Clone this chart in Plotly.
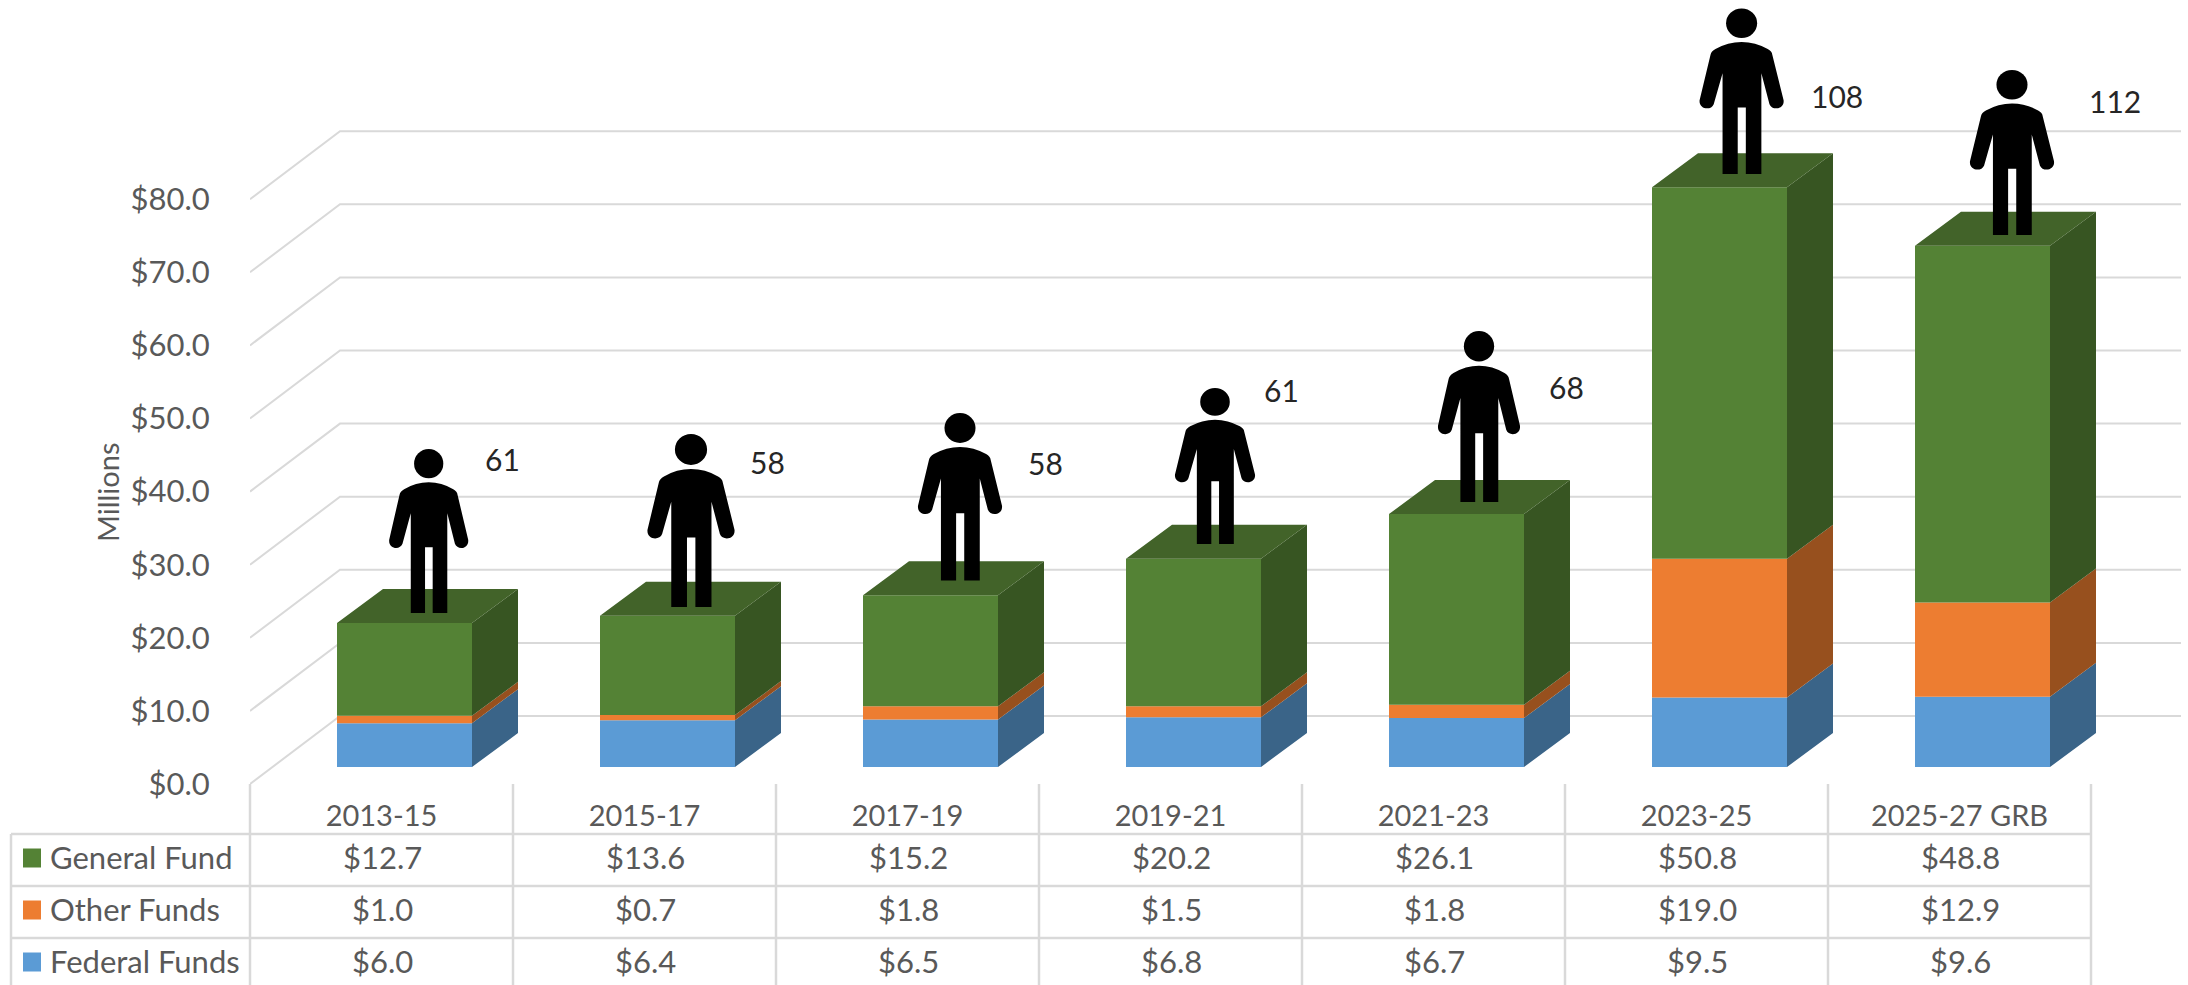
import plotly.graph_objects as go

categories = ["2013-15", "2015-17", "2017-19", "2019-21", "2021-23", "2023-25", "2025-27 GRB"]
general_fund = [12.7, 13.6, 15.2, 20.2, 26.1, 50.8, 48.8]
other_funds = [1.0, 0.7, 1.8, 1.5, 1.8, 19.0, 12.9]
federal_funds = [6.0, 6.4, 6.5, 6.8, 6.7, 9.5, 9.6]
headcount = [61, 58, 58, 61, 68, 108, 112]
y_ticks = [0, 10, 20, 30, 40, 50, 60, 70, 80]

W, H = 2188, 985
L, B0 = 250, 784          # px of plot left edge and plot bottom
SLOT = 263.0              # px per category
UNIT = 7.31               # px per $1M
FONT = "Lato"
TXT = "#595959"
GRID = "#D9D9D9"

# pixel <-> axis helpers
def xpx(px): return (px - (L + SLOT / 2)) / SLOT
def ypx(py): return (B0 - py) / UNIT
def xp(px): return (px - L) / (W - L)
def yp(py): return (B0 - py) / B0

DX_FLOOR, DY_FLOOR = 90 / SLOT, 68 / UNIT
DX_BAR, DY_BAR = 46 / SLOT, 34 / UNIT
FRONT_DX, FRONT_DY = 23 / SLOT, 17 / UNIT
BAR_W = 135 / SLOT

series = [
    ("Federal Funds", federal_funds, "#5B9BD5", "#3A6488"),
    ("Other Funds", other_funds, "#ED7D31", "#97501E"),
    ("General Fund", general_fund, "#548235", "#375522"),
]
TOP_COLOR = "#426329"

fig = go.Figure()
shapes = []

# 3-D wall grid
left = -0.5
right = left + len(categories)
for t in y_ticks:
    shapes.append(dict(
        type="path", layer="below", xref="x", yref="y",
        path=f"M {left} {t} L {left + DX_FLOOR} {t + DY_FLOOR} L {right + DX_FLOOR} {t + DY_FLOOR}",
        line=dict(color=GRID, width=2),
    ))

# Bars and their side / top faces
bases = [FRONT_DY] * len(categories)
for name, vals, front, side in series:
    fig.add_trace(go.Bar(
        x=[i + FRONT_DX for i in range(len(categories))], y=vals, base=list(bases),
        width=BAR_W, marker=dict(color=front, line=dict(width=0)), name=name,
        hoverinfo="name+y", showlegend=False,
    ))
    sx, sy = [], []
    for i, v in enumerate(vals):
        xr = i + FRONT_DX + BAR_W / 2
        b = bases[i]
        sx += [xr, xr + DX_BAR, xr + DX_BAR, xr, xr, None]
        sy += [b, b + DY_BAR, b + v + DY_BAR, b + v, b, None]
    fig.add_trace(go.Scatter(x=sx, y=sy, mode="lines", fill="toself", fillcolor=side,
                             line=dict(width=0, color=side), hoverinfo="skip", showlegend=False))
    bases = [b + v for b, v in zip(bases, vals)]

tx, ty = [], []
for i, b in enumerate(bases):
    xl = i + FRONT_DX - BAR_W / 2
    xr = i + FRONT_DX + BAR_W / 2
    tx += [xl, xr, xr + DX_BAR, xl + DX_BAR, xl, None]
    ty += [b, b, b + DY_BAR, b + DY_BAR, b, None]
fig.add_trace(go.Scatter(x=tx, y=ty, mode="lines", fill="toself", fillcolor=TOP_COLOR,
                         line=dict(width=0, color=TOP_COLOR), hoverinfo="skip", showlegend=False))

# Person icons: (centre x, top y, feet y, width) in px
person_place = [
    (428.7, 449, 613, 79), (691, 434, 607, 87), (960, 413, 580.5, 84), (1215, 388, 544, 80),
    (1479, 331, 502, 82), (1741.6, 8.5, 174, 84), (2012, 70, 235, 84),
]
def person(cx, top, feet, width):
    sx = width / 238.0
    sy = (feet - top) / 493.0
    def p(x, y):
        return f"{xp(cx + (x - 176) * sx):.5f} {yp(top + (y - 87) * sy):.5f}"
    body = (
        f"M {p(122,580)} L {p(165,580)} L {p(165,382)} L {p(188,382)} L {p(188,580)} L {p(232,580)} "
        f"L {p(232,280)} L {p(255,372)} C {p(262,392)} {p(298,388)} {p(295,360)} L {p(263,225)} "
        f"Q {p(262,215)} {p(250,208)} Q {p(215,187)} {p(176,187)} Q {p(137,187)} {p(102,208)} "
        f"Q {p(90,215)} {p(88,225)} L {p(57,360)} C {p(54,388)} {p(90,392)} {p(97,372)} L {p(122,280)} Z"
    )
    shapes.append(dict(type="path", xref="paper", yref="paper", path=body,
                       fillcolor="black", line=dict(width=0)))
    r = 44
    shapes.append(dict(type="circle", xref="paper", yref="paper",
                       x0=xp(cx - r * sx), x1=xp(cx + r * sx),
                       y0=yp(top), y1=yp(top + 2 * r * sy),
                       fillcolor="black", line=dict(width=0)))
for pl in person_place:
    person(*pl)

annotations = []
label_place = [(502, 459), (767, 462), (1045, 463), (1281, 390), (1566, 387), (1837, 96), (2115, 101)]
for n, (px, py) in zip(headcount, label_place):
    annotations.append(dict(xref="paper", yref="paper", x=xp(px), y=yp(py), text=str(n), showarrow=False,
                            xanchor="center", yanchor="middle", font=dict(family=FONT, size=30, color="#262626")))

annotations.append(dict(xref="paper", yref="paper", x=xp(107), y=yp(492), text="Millions", textangle=-90,
                        showarrow=False, xanchor="center", yanchor="middle",
                        font=dict(family=FONT, size=29, color=TXT)))

# Data table
rows = [("General Fund", general_fund, "#548235", 857),
        ("Other Funds", other_funds, "#ED7D31", 909),
        ("Federal Funds", federal_funds, "#5B9BD5", 961)]
for name, vals, col, py in rows:
    annotations.append(dict(xref="paper", yref="paper", x=xp(48), y=yp(py), text=name, showarrow=False,
                            xanchor="left", yanchor="middle", font=dict(family=FONT, size=31, color=TXT)))
    shapes.append(dict(type="rect", xref="paper", yref="paper", x0=xp(23), x1=xp(41), y0=yp(py - 8.5), y1=yp(py + 10.5),
                       fillcolor=col, line=dict(width=0)))
    for i, v in enumerate(vals):
        annotations.append(dict(xref="paper", yref="paper", x=xp(L + SLOT * (i + 0.5) + 1), y=yp(py), text=f"${v:.1f}",
                                showarrow=False, xanchor="center", yanchor="middle",
                                font=dict(family=FONT, size=31, color=TXT)))

for py in (834, 886, 938):
    shapes.append(dict(type="line", xref="paper", yref="paper", x0=xp(11), x1=xp(L + SLOT * 7), y0=yp(py), y1=yp(py),
                       line=dict(color=GRID, width=2.5)))
shapes.append(dict(type="line", xref="paper", yref="paper", x0=xp(11), x1=xp(11), y0=yp(834), y1=yp(990),
                   line=dict(color=GRID, width=2.5)))
for i in range(len(categories) + 1):
    px = L + SLOT * i
    shapes.append(dict(type="line", xref="paper", yref="paper", x0=xp(px), x1=xp(px), y0=yp(B0), y1=yp(990),
                       line=dict(color=GRID, width=2.5)))

fig.update_layout(
    width=W, height=H, paper_bgcolor="white", plot_bgcolor="rgba(0,0,0,0)",
    margin=dict(l=L, r=0, t=0, b=H - B0), barmode="overlay", showlegend=False,
    shapes=shapes, annotations=annotations,
    font=dict(family=FONT, size=28, color=TXT),
    xaxis=dict(range=[xpx(L), xpx(W)], tickvals=list(range(len(categories))), ticktext=categories,
               ticks="outside", ticklen=6, tickcolor="rgba(0,0,0,0)", showgrid=False, zeroline=False,
               showline=False, tickfont=dict(family=FONT, size=29, color=TXT)),
    yaxis=dict(range=[0, ypx(0)], tickvals=y_ticks, tickformat="$.1f", ticks="outside", ticklen=33,
               tickcolor="rgba(0,0,0,0)", showgrid=False, zeroline=False, showline=False,
               tickfont=dict(family=FONT, size=31, color=TXT)),
)

fig.write_html("out.html", config=dict(displayModeBar=False),
               post_script="document.body.style.margin='0';document.body.style.overflow='hidden';")
